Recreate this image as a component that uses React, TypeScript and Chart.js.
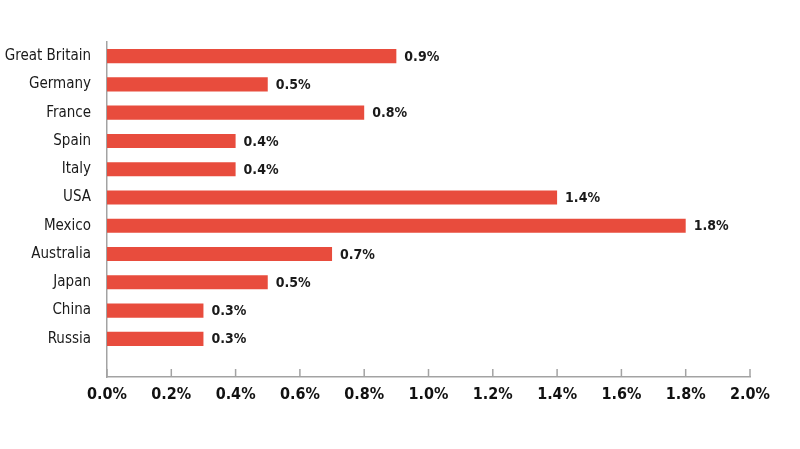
import React, { useEffect, useRef } from 'react';
import { Chart, registerables } from 'chart.js';

Chart.register(...registerables);

const countries = ['Great Britain', 'Germany', 'France', 'Spain', 'Italy', 'USA', 'Mexico', 'Australia', 'Japan', 'China', 'Russia'];
const shares = [0.9, 0.5, 0.8, 0.4, 0.4, 1.4, 1.8, 0.7, 0.5, 0.3, 0.3];
const xTicks = [0, 0.2, 0.4, 0.6, 0.8, 1.0, 1.2, 1.4, 1.6, 1.8, 2.0];

const BAR_RED = '#e84c3d';
const AXIS_GREY = '#a3a3a3';
const NARROW = '"Liberation Sans Narrow", "DejaVu Sans Condensed", "Arial Narrow", sans-serif';

// little inward tick marks on the x axis
const xTickMarks = {
    id: 'xTickMarks',
    afterDraw(chart: Chart) {
        const x = chart.scales.x;
        const ctx = chart.ctx;
        ctx.save();
        ctx.strokeStyle = AXIS_GREY;
        ctx.lineWidth = 1.5;
        x.ticks.forEach(t => {
            const px = x.getPixelForValue(t.value);
            ctx.beginPath();
            ctx.moveTo(px, x.top);
            ctx.lineTo(px, x.top - 8);
            ctx.stroke();
        });
        ctx.restore();
    }
};

// percent labels at the end of each bar
const valueLabels = {
    id: 'valueLabels',
    afterDatasetsDraw(chart: Chart) {
        const ctx = chart.ctx;
        const meta = chart.getDatasetMeta(0);
        ctx.save();
        ctx.fillStyle = '#1a1a1a';
        ctx.font = `bold 14px ${NARROW}`;
        ctx.textAlign = 'left';
        ctx.textBaseline = 'middle';
        meta.data.forEach((bar: any, i: number) => {
            ctx.fillText(shares[i].toFixed(1) + '%', bar.x + 8, bar.y + 1);
        });
        ctx.restore();
    }
};

const CountryBars: React.FC = () => {
    const chartRef = useRef<HTMLCanvasElement>(null);
    const chartInstance = useRef<Chart | null>(null);

    useEffect(() => {
        if (!chartRef.current) return;
        if (chartInstance.current) chartInstance.current.destroy();

        const ctx = chartRef.current.getContext('2d');
        if (!ctx) return;

        chartInstance.current = new Chart(ctx, {
            type: 'bar',
            data: {
                datasets: [{
                    data: shares.map((v, i) => ({ x: v, y: i })),
                    backgroundColor: BAR_RED,
                    borderWidth: 0,
                    barPercentage: 0.5,
                    categoryPercentage: 1
                }]
            },
            options: {
                indexAxis: 'y',
                responsive: true,
                maintainAspectRatio: false,
                animation: false,
                layout: { padding: { top: 42, right: 50, left: 0, bottom: 0 } },
                scales: {
                    x: {
                        type: 'linear',
                        min: 0,
                        max: 2,
                        bounds: 'data',
                        afterBuildTicks: (scale: any) => {
                            scale.ticks = xTicks.map(v => ({ value: v }));
                        },
                        afterFit: (scale: any) => {
                            scale.height = 72;
                        },
                        ticks: {
                            padding: 8,
                            color: '#111',
                            font: { family: NARROW, size: 16, weight: 'bold' },
                            callback: (v: any) => Number(v).toFixed(1) + '%'
                        },
                        grid: { display: false, drawTicks: false },
                        border: { display: true, color: AXIS_GREY, width: 1.5 }
                    },
                    y: {
                        type: 'linear',
                        reverse: true,
                        offset: false,
                        min: -0.5,
                        max: 11.35,
                        bounds: 'data',
                        afterBuildTicks: (scale: any) => {
                            scale.ticks = countries.map((_, i) => ({ value: i }));
                        },
                        afterFit: (scale: any) => {
                            scale.width = 107;
                        },
                        ticks: {
                            padding: 16,
                            color: '#1a1a1a',
                            font: { family: NARROW, size: 15 },
                            callback: (v: any) => countries[v] ?? ''
                        },
                        grid: { display: false, drawTicks: false, offset: false },
                        border: { display: true, color: AXIS_GREY, width: 1.5 }
                    }
                },
                plugins: {
                    legend: { display: false },
                    tooltip: { enabled: false }
                }
            },
            plugins: [xTickMarks, valueLabels]
        });

        return () => {
            if (chartInstance.current) {
                chartInstance.current.destroy();
                chartInstance.current = null;
            }
        };
    }, []);

    return (
        <div style={{ position: 'fixed', left: 0, top: 0, width: 800, height: 449, background: '#fff' }}>
            <canvas ref={chartRef}></canvas>
        </div>
    );
};

export default function App() {
    return <CountryBars />;
}
